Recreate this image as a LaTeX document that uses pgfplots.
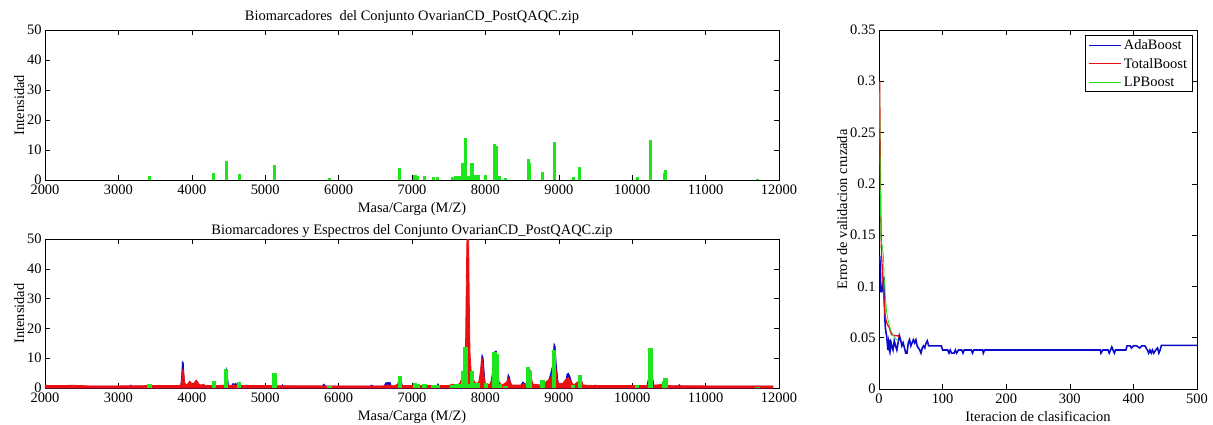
\documentclass[border=0pt]{standalone}
\usepackage{fontspec}
\setmainfont{Liberation Serif}
\usepackage{pgfplots}
\pgfplotsset{compat=1.18}

\definecolor{mblue}{RGB}{10,10,205}
\definecolor{mred}{RGB}{235,15,15}
\definecolor{mgreen}{RGB}{30,230,30}
\definecolor{lgreen}{RGB}{40,220,40}

% biomarcadores (posicion, intensidad)
\pgfplotstableread{
x y
3423 1.4
4300 2.4
4468 6.5
4645 1.9
5127 5.1
5877 0.7
6835 3.9
7040 1.6
7075 1.5
7173 1.4
7290 1.0
7345 1.1
7550 1.0
7600 1.3
7640 1.5
7695 5.6
7732 13.9
7764 1.4
7818 5.6
7860 1.7
7900 1.7
8005 1.7
8127 12.0
8150 11.3
8195 1.4
8277 0.8
8582 7.0
8605 5.8
8777 2.8
8936 12.6
9195 1.1
9286 4.2
10068 1.1
10250 13.3
10436 2.2
10455 3.3
11705 0.4
}\biomarc

\begin{document}
\begin{tikzpicture}[font=\fontsize{14.5}{17}\selectfont]
\useasboundingbox (0,-425bp) rectangle (1213bp,0);
\pgfplotsset{
  matlab/.style={
    scale only axis,
    anchor=south west,
    axis line style={black, line width=0.6bp},
    tick style={black, line width=0.6bp},
    major tick length=5bp,
    tick align=inside,
    tick pos=both,
    scaled ticks=false,
    ticklabel style={font=\fontsize{14.5}{17}\selectfont},
    xticklabel style={yshift=-1bp},
    /pgf/number format/assume math mode=true,
    /pgf/number format/1000 sep={},
    title style={yshift=-3bp},
    xlabel style={yshift=-1bp},
    ylabel style={yshift=-4bp},
  },
  spec/.style={
    matlab,
    width=734bp,
    xmin=2000, xmax=12000, ymin=0, ymax=50,
    xtick={2000,3000,...,12000},
    ytick={0,10,...,50},
    xlabel={Masa/Carga (M/Z)},
    ylabel={Intensidad},
  },
}

% --- arriba: biomarcadores
\begin{axis}[spec, at={(45bp,-180bp)}, height=150bp,
  title={Biomarcadores\ \ del Conjunto OvarianCD\_PostQAQC.zip}]
\addplot[ycomb, mgreen, line width=3.2bp] table[x=x,y=y] {\biomarc};
\end{axis}

% --- abajo: biomarcadores y espectros
\begin{axis}[spec, at={(45bp,-388bp)}, height=149bp,
  title={Biomarcadores y Espectros del Conjunto OvarianCD\_PostQAQC.zip},
  title style={yshift=-5bp}]
\addplot[fill=mblue, draw=mblue, line width=0.8bp] coordinates {
(2000,0.6) (3150,0.6) (3170,1.0) (3180,0.6) (3850,0.6) (3862,4) (3872,8.8) (3884,8.5)
(3895,3) (3905,0.6) (4440,0.6) (4460,5) (4470,6.3) (4485,4) (4500,0.6) (4540,0.6)
(4560,1.5) (4580,1.2) (4600,1.6) (4620,0.6) (4720,0.6) (4740,1) (4760,0.6)
(5220,0.6) (5235,1.1) (5250,0.6) (5780,0.6) (5795,1.3) (5810,1) (5820,0.6)
(6430,0.6) (6450,1) (6470,0.6) (6620,0.6) (6640,1.7) (6670,1.8) (6700,1.9) (6720,0.6)
(6800,0.6) (6830,3.8) (6850,3) (6870,0.6) (7340,0.6) (7355,1.4) (7370,0.6)
(7930,0.6) (7945,9) (7955,11) (7970,10) (7990,3) (8000,0.6)
(8070,1) (8090,4) (8110,9) (8130,12.3) (8150,12.3) (8170,5) (8190,0.6)
(8290,0.8) (8310,4.5) (8330,3.5) (8350,0.6) (8480,0.8) (8510,2) (8540,1.5) (8560,0.6)
(8580,1) (8600,6.5) (8620,5) (8640,0.6) (8850,1) (8890,5) (8920,8) (8935,14.8)
(8950,14) (8965,8) (8985,3) (9000,1) (9090,1) (9110,4.5) (9130,5) (9150,4)
(9180,1.5) (9200,0.6) (9270,1) (9290,4) (9310,2.5) (9330,0.6) (9480,0.6) (9495,1)
(9510,0.6) (10200,0.6) (10220,3) (10235,5) (10260,12) (10280,3) (10300,0.6)
(10430,0.8) (10450,2.5) (10470,2) (10490,0.6) (10620,0.6) (10640,1.1) (10660,0.6)
(11914,0.6)
} \closedcycle;
\addplot[fill=mred, draw=mred, line width=0.8bp] coordinates {
(2000,0.9) (2100,0.8) (2400,0.9) (2600,0.7) (3000,0.7) (3400,0.8) (3840,0.8)
(3860,2) (3870,5) (3880,6.2) (3890,5.5) (3900,2) (3920,1) (3950,1.5) (3970,2.3)
(3990,1.8) (4010,1.2) (4040,2) (4060,2.7) (4080,2) (4100,1.2) (4130,1) (4160,1.3)
(4180,0.8) (4440,0.9) (4470,1.5) (4500,0.9) (4560,0.9) (4580,1.1) (4600,0.8)
(5000,0.8) (5800,0.7) (6600,0.7) (6680,1) (6750,0.7) (6830,1.5) (6860,0.8)
(7500,0.8) (7550,1.3) (7600,1) (7650,1.5) (7690,4) (7710,8) (7730,15) (7742,40)
(7752,55) (7770,55) (7780,30) (7790,12) (7805,6) (7830,3) (7870,1.5) (7910,2)
(7935,6) (7950,10.3) (7965,9) (7980,4) (8000,1.5) (8060,1.2) (8090,3) (8110,7)
(8130,11.8) (8150,12) (8165,8) (8185,2) (8230,1) (8290,2) (8310,3.4) (8330,2.5)
(8360,1) (8490,1) (8520,1.5) (8550,1.2) (8590,4) (8605,6) (8625,3) (8650,1.3)
(8760,1) (8800,1.5) (8870,3) (8900,4) (8930,8.8) (8955,8) (8975,3) (9000,1.5)
(9050,1.5) (9100,3) (9130,3.5) (9160,2.5) (9200,1) (9280,2.5) (9300,3) (9330,1)
(9500,0.8) (10200,0.8) (10240,2) (10260,2) (10290,0.9) (10440,1.3) (10470,0.8)
(11000,0.7) (11914,0.7)
} \closedcycle;
\addplot[ycomb, mgreen, line width=4.5bp] table[x=x,y=y] {\biomarc};
\end{axis}

% --- derecha: error de validacion cruzada
\begin{axis}[matlab, at={(879bp,-389bp)}, width=318bp, height=359bp,
  xmin=0, xmax=500, ymin=0, ymax=0.35,
  xtick={0,100,...,500},
  ytick={0,0.05,0.1,0.15,0.2,0.25,0.3,0.35},
  yticklabel style={/pgf/number format/fixed, /pgf/number format/precision=2},
  xlabel={Iteracion de clasificacion},
  ylabel={Error de validacion cruzada},
  legend style={at={(0.985,0.985)}, anchor=north east, draw=black,
    inner xsep=3bp, inner ysep=2bp, row sep=3bp,
    font=\fontsize{14.5}{17}\selectfont},
  legend cell align=left,
  legend image code/.code={\draw[#1] (0bp,0bp) -- (32bp,0bp);},
]
\addplot[mblue, line width=1.6bp] coordinates {
(1,0.13) (2,0.12) (3,0.095) (5,0.095) (6,0.1) (7,0.108) (8,0.108) (9,0.07) (10,0.06)
(11,0.055) (12,0.052) (13,0.045) (14,0.038) (15,0.045) (16,0.04) (17,0.048) (18,0.04)
(19,0.045) (20,0.042) (22,0.038) (24,0.047) (26,0.042) (28,0.038) (30,0.045) (32,0.052)
(34,0.048) (36,0.042) (38,0.045) (40,0.04) (42,0.035) (44,0.035) (46,0.045) (48,0.048)
(50,0.042) (52,0.045) (54,0.048) (56,0.045) (58,0.048) (60,0.042) (62,0.04) (64,0.038)
(66,0.035) (68,0.04) (70,0.042) (72,0.04) (74,0.045) (76,0.047) (78,0.042) (80,0.042)
(98,0.042) (100,0.038) (108,0.038) (110,0.035) (112,0.038) (114,0.035) (118,0.035)
(120,0.038) (122,0.035) (125,0.038) (130,0.038) (132,0.035) (134,0.038) (145,0.038)
(147,0.035) (149,0.038) (163,0.038) (164,0.035) (166,0.038) (348,0.038) (349,0.035)
(352,0.038) (360,0.038) (362,0.035) (364,0.038) (366,0.041) (368,0.038) (370,0.035)
(372,0.038) (388,0.038) (390,0.042) (395,0.042) (397,0.04) (400,0.042) (405,0.042)
(410,0.04) (413,0.042) (418,0.042) (420,0.04) (422,0.038) (424,0.035) (426,0.038)
(428,0.035) (430,0.038) (432,0.035) (435,0.038) (438,0.04) (440,0.035) (442,0.038)
(444,0.0425) (500,0.0425)
};
\addlegendentry{AdaBoost}
\addplot[mred, line width=1.3bp] coordinates {
(1,0.30) (2,0.22) (3,0.16) (4,0.13) (5,0.12) (6,0.11) (7,0.095) (8,0.085) (9,0.075)
(10,0.07) (12,0.065) (14,0.062) (16,0.06) (18,0.056) (20,0.053) (25,0.052) (30,0.052)
(32,0.05)
};
\addlegendentry{TotalBoost}
\addplot[lgreen, line width=0.8bp] coordinates {
(1,0.29) (2,0.2) (3,0.145) (5,0.14) (7,0.13) (8,0.11) (10,0.09) (12,0.075) (14,0.068)
(16,0.063) (18,0.058) (20,0.055) (23,0.052) (26,0.049) (28,0.048) (30,0.047)
};
\addlegendentry{LPBoost}
\end{axis}
\end{tikzpicture}
\end{document}
